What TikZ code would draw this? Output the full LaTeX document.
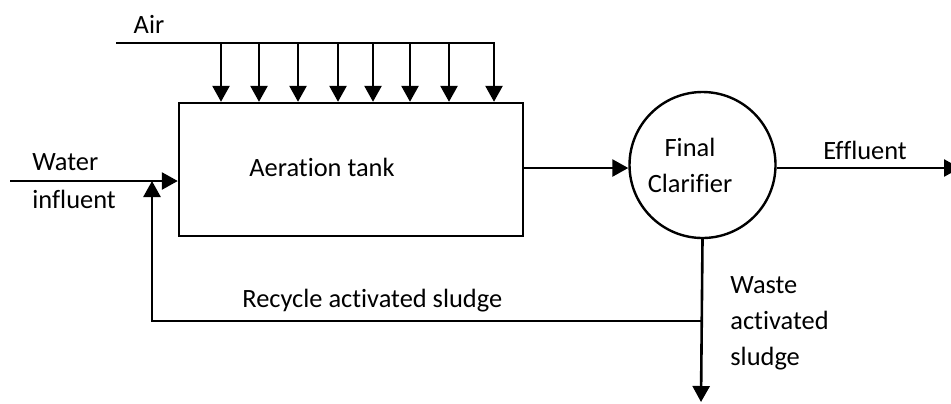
\documentclass[tikz,border=0pt]{standalone}
\usepackage{fontspec}
\setmainfont{Carlito}[Ligatures={NoCommon}]
\usetikzlibrary{arrows.meta}
\begin{document}
\begin{tikzpicture}[x=0.5pt,y=-0.5pt,
  flow/.style={line width=1.3pt},
  arr/.style={flow,-{Triangle[width=8.5pt,length=8pt]}},
  lbl/.style={font=\fontsize{13.2}{18}\selectfont,inner sep=0pt},
  unit/.style={draw,line width=1.2pt,inner sep=0pt}]
\clip (0,0) rectangle (951,403);
% process units
\node[unit,minimum width=172pt,minimum height=66.5pt] (tank) at (351,169.5) {};
\node[lbl,anchor=west] (tanktxt) at (249,167) {Aeration tank};
\node[unit,circle,minimum size=73pt] (clar) at (702.5,165) {};
\node[lbl,align=center] (clartxt) at (690,165) {Final\\Clarifier};
% air header and diffusers
\coordinate (airA) at (116,43);
\coordinate (airB) at (495,43);
\draw[flow] (airA) -- (airB);
\node[lbl] (air) at (149,24) {Air};
\foreach \x [count=\i] in {221,259,298,338,373,410,449,494}{
  \coordinate (d\i) at (\x,43);
  \draw[arr] (d\i) -- (d\i |- tank.north);
}
% influent
\coordinate (win) at (10,181);
\draw[arr] (win) -- (win -| tank.west);
\node[lbl,anchor=west] (water) at (32,162) {Water};
\node[lbl,anchor=west] (influent) at (32,199) {influent};
% tank to clarifier
\coordinate (tout) at (tank.east |- 0,168);
\draw[arr] (tout) -- (tout -| clar.west);
% effluent
\coordinate (eff) at (960,168);
\draw[arr] (clar.east |- eff) -- (eff);
\node[lbl,anchor=west] (efftxt) at (823,150) {Effluent};
% waste and recycle
\coordinate (wend) at (701,402);
\coordinate (rj) at (701,321);
\coordinate (rc) at (152,321);
\draw[arr] (clar.south) -- (wend);
\draw[arr] (rj) -- (rc) -- (rc |- win);
\node[lbl,anchor=west] (rectxt) at (242,301) {Recycle activated sludge};
\node[lbl,anchor=west,align=left] (wastetxt) at (730,323) {Waste\\activated\\sludge};
\end{tikzpicture}
\end{document}
